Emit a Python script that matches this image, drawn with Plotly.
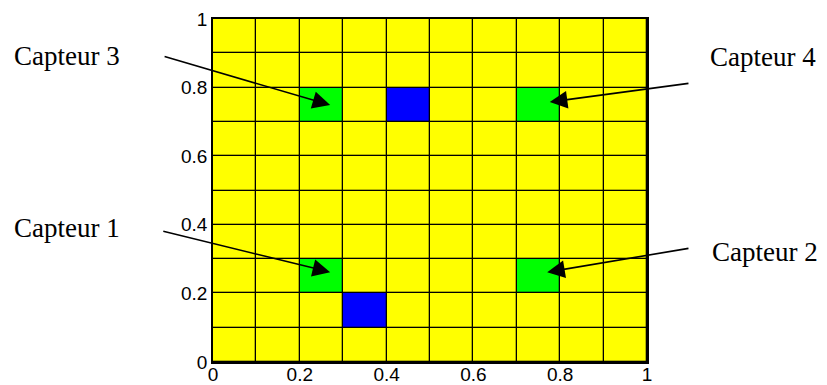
import plotly.graph_objects as go

# Grid: 10 x 10 cells on [0, 1] x [0, 1]
n_cells = 10
cell_centers = [0.05, 0.15, 0.25, 0.35, 0.45, 0.55, 0.65, 0.75, 0.85, 0.95]
# special cells (column index, row index)
green_cells = [(2, 7), (7, 7), (2, 2), (7, 2)]
blue_cells = [(4, 7), (3, 1)]
tick_vals = [0, 0.2, 0.4, 0.6, 0.8, 1]
tick_text = ["0", "0.2", "0.4", "0.6", "0.8", "1"]
labels = ["Capteur 3", "Capteur 4", "Capteur 1", "Capteur 2"]

z = [[0] * n_cells for _ in range(n_cells)]
for c, r in green_cells:
    z[r][c] = 1
for c, r in blue_cells:
    z[r][c] = 2

fig = go.Figure(go.Heatmap(
    x=cell_centers, y=cell_centers, z=z, zmin=0, zmax=2,
    colorscale=[[0, "#ffff00"], [0.333, "#ffff00"], [0.333, "#00ff00"],
                [0.667, "#00ff00"], [0.667, "#0000ff"], [1, "#0000ff"]],
    showscale=False, xgap=1.3, ygap=1.3, hoverinfo="skip"))

axis_common = dict(range=[0, 1], tickvals=tick_vals, ticktext=tick_text,
                   showgrid=False, zeroline=False, showline=True,
                   linecolor="black", linewidth=1.5, mirror=True, ticks="",
                   ticklen=0, automargin=False,
                   tickfont=dict(family="Liberation Sans", size=19, color="black"))
fig.update_xaxes(**axis_common, ticklabelstandoff=-6)
fig.update_yaxes(**axis_common)

# arrows: (tail_x, tail_y, tip_x, tip_y) in data coordinates
arrows = [(-0.115, 0.892, 0.27, 0.749),
          (1.099, 0.813, 0.776, 0.758),
          (-0.118, 0.382, 0.27, 0.262),
          (1.099, 0.332, 0.770, 0.262)]
text_pos = [(-0.463, 0.892), (1.141, 0.889), (-0.463, 0.391), (1.145, 0.321)]

annotations = []
for (tx, ty, hx, hy) in arrows:
    annotations.append(dict(x=hx, y=hy, ax=tx, ay=ty, xref="x", yref="y",
                            axref="x", ayref="y", text="", showarrow=True,
                            arrowhead=2, arrowsize=2.2, arrowwidth=1.6,
                            arrowcolor="black", standoff=0, startstandoff=0))
for (px, py), lab in zip(text_pos, labels):
    annotations.append(dict(x=px, y=py, xref="paper", yref="paper", text=lab,
                            showarrow=False, xanchor="left", yanchor="middle",
                            font=dict(family="Liberation Serif", size=27,
                                      color="black")))

fig.update_layout(width=819, height=377, annotations=annotations,
                  margin=dict(l=205, r=180, t=11, b=23),
                  plot_bgcolor="black", paper_bgcolor="white",
                  showlegend=False)

fig.write_html("out.html")
